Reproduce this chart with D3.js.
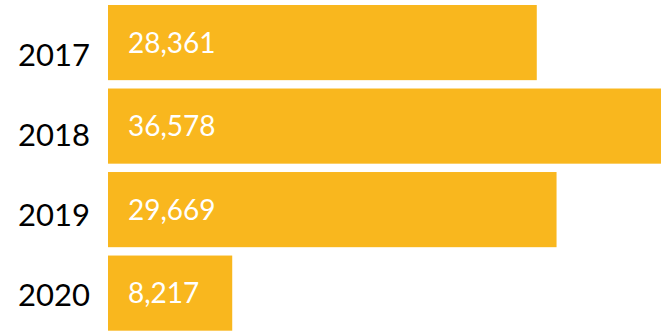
<!DOCTYPE html>
<html>
<head>
<meta charset="utf-8">
<script src="https://cdn.jsdelivr.net/npm/d3@7"></script>
<style>
  html, body { margin: 0; padding: 0; background: #fff; }
  svg { display: block; }
</style>
</head>
<body>
<svg id="chart" width="666" height="332"></svg>
<script>
// Yearly totals
const years = ["2017", "2018", "2019", "2020"];
const values = [28361, 36578, 29669, 8217];

const svg = d3.select("#chart");
const barColor = "#F9B71E";
const font = "Lato, 'Open Sans', sans-serif";

const x = d3.scaleLinear().domain([0, 36578]).range([108, 661]);
const y = d3.scaleBand().domain(years).range([5, 330.7]).paddingInner(0.1).paddingOuter(0);
// category labels sit on their own evenly spaced rows
const yLabel = d3.scalePoint().domain(years).range([54, 294]);

const data = years.map((yr, i) => ({ year: yr, value: values[i] }));

svg.selectAll("rect.bar")
  .data(data)
  .join("rect")
  .attr("class", "bar")
  .attr("x", x(0))
  .attr("y", d => y(d.year))
  .attr("width", d => x(d.value) - x(0))
  .attr("height", y.bandwidth())
  .attr("fill", barColor);

svg.selectAll("text.value")
  .data(data)
  .join("text")
  .attr("class", "value")
  .attr("x", x(0) + 20)
  .attr("y", d => y(d.year) + y.bandwidth() / 2 + 10)
  .attr("fill", "#fff")
  .attr("font-family", font)
  .attr("font-size", 28)
  .text(d => d3.format(",")(d.value));

// year axis, no line or tick marks
const axis = svg.append("g")
  .attr("transform", "translate(90,0)")
  .call(d3.axisLeft(yLabel).tickSize(0).tickPadding(0));
axis.select(".domain").remove();
axis.selectAll("text")
  .attr("font-family", font)
  .attr("font-size", 31)
  .attr("fill", "#000")
  .attr("dy", "0.36em");
</script>
</body>
</html>
